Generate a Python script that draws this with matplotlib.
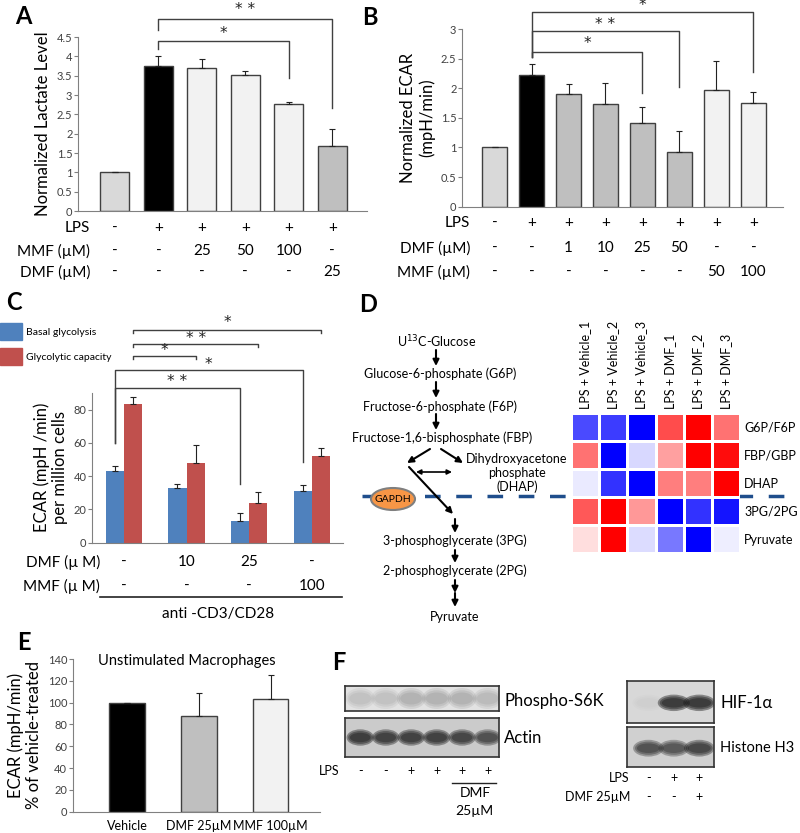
import numpy as np
import matplotlib.pyplot as plt
from matplotlib.patches import Ellipse, Rectangle
from matplotlib.transforms import blended_transform_factory

plt.rcParams['font.family'] = ['Lato', 'DejaVu Sans']

# ---- data ----
a_vals = [1.0, 3.75, 3.69, 3.51, 2.76, 1.69]
a_err = [0, 0.27, 0.24, 0.11, 0.07, 0.43]
a_colors = ['#d9d9d9', '#000000', '#f2f2f2', '#f2f2f2', '#f2f2f2', '#bfbfbf']
a_lps = ['-', '+', '+', '+', '+', '+']
a_mmf = ['-', '-', '25', '50', '100', '-']
a_dmf = ['-', '-', '-', '-', '-', '25']
a_sig = [(1, 5, '* *'), (1, 4, '*')]

b_vals = [1.0, 2.22, 1.90, 1.74, 1.41, 0.93, 1.97, 1.75]
b_err = [0, 0.19, 0.17, 0.35, 0.27, 0.35, 0.49, 0.19]
b_colors = ['#d9d9d9', '#000000', '#bfbfbf', '#bfbfbf', '#bfbfbf', '#bfbfbf', '#f2f2f2', '#f2f2f2']
b_lps = ['-', '+', '+', '+', '+', '+', '+', '+']
b_dmf = ['-', '-', '1', '10', '25', '50', '-', '-']
b_mmf = ['-', '-', '-', '-', '-', '-', '50', '100']
b_sig = [(1, 7, '*'), (1, 5, '* *'), (1, 4, '*')]

c_series = ['Basal glycolysis', 'Glycolytic capacity']
c_colors = ['#4f81bd', '#c0504d']
c_basal = [42.8, 33.1, 13.2, 31.1]
c_basal_err = [3.0, 2.2, 4.4, 3.6]
c_capacity = [83.6, 47.8, 24.0, 52.2]
c_capacity_err = [4.1, 11.1, 6.3, 4.7]
c_dmf = ['-', '10', '25', '-']
c_mmf = ['-', '-', '-', '100']
c_sig_capacity = [(0, 3, '*'), (0, 2, '* *'), (0, 1, '*')]
c_sig_basal = [(0, 3, '*'), (0, 2, '* *')]

d_cols = ['LPS + Vehicle_1', 'LPS + Vehicle_2', 'LPS + Vehicle_3',
          'LPS + DMF_1', 'LPS + DMF_2', 'LPS + DMF_3']
d_rows = ['G6P/F6P', 'FBP/GBP', 'DHAP', '3PG/2PG', 'Pyruvate']
d_z = [[-0.71, -0.76, -1.0, 0.70, 1.0, 0.55],
       [0.55, -1.0, -0.15, 0.37, 1.0, 0.95],
       [-0.08, -0.80, -1.0, 0.50, 0.50, 1.0],
       [0.65, 1.0, 0.40, -1.0, -0.80, -0.92],
       [0.13, 1.0, -0.14, -0.53, -1.0, -0.07]]

e_labels = ['Vehicle', 'DMF 25µM', 'MMF 100µM']
e_vals = [100, 88, 103]
e_err = [0, 21, 22]
e_colors = ['#000000', '#bfbfbf', '#f2f2f2']

f_lps_left = ['-', '-', '+', '+', '+', '+']
f_s6k = [0.12, 0.12, 0.18, 0.18, 0.18, 0.15]
f_actin = [0.9, 0.85, 0.85, 0.85, 0.8, 0.7]
f_lps_right = ['-', '+', '+']
f_dmf_right = ['-', '-', '+']
f_hif = [0.03, 0.95, 0.95]
f_h3 = [0.7, 0.65, 0.8]

# ---- figure ----
W, H = 800, 833
fig = plt.figure(figsize=(8, 8.33), dpi=100)
ov = fig.add_axes([0, 0, 1, 1])
ov.set_xlim(0, W)
ov.set_ylim(H, 0)
ov.axis('off')


def box(x0, y0, x1, y1):
    return [x0 / W, 1 - y1 / H, (x1 - x0) / W, (y1 - y0) / H]


def style(ax, ticks, ylim, xlim):
    ax.set_facecolor('none')
    for s in ['top', 'right']:
        ax.spines[s].set_visible(False)
    for s in ['left', 'bottom']:
        ax.spines[s].set_color('#808080')
    ax.set_ylim(*ylim)
    ax.set_xlim(*xlim)
    ax.set_yticks(ticks)
    ax.set_yticklabels([f'{t:g}' for t in ticks])
    ax.tick_params(axis='y', length=3, color='#808080', labelsize=8, labelcolor='#404040', pad=1)
    ax.set_xticks([])


def bracket(ax, x0, x1, y, y0, y1, label, ly, fs=11):
    ax.plot([x0, x0, x1, x1], [y0, y, y, y1], color='#404040', lw=1, clip_on=False)
    ax.text((x0 + x1) / 2, ly, label, ha='center', va='center', fontsize=fs,
            family='DejaVu Sans', color='#222222')


def xt(ax):
    return blended_transform_factory(ax.transData, ov.transData)


def rowlabels(ax, names, rows, ys, xr, fs=11):
    for name, vals, y in zip(names, rows, ys):
        ov.text(xr, y, name, ha='right', va='center', fontsize=fs)
        for i, v in enumerate(vals):
            ax.text(i, y, v, transform=xt(ax), ha='center', va='center', fontsize=fs)


ekw = dict(ecolor='#222222', elinewidth=0.8, capsize=2, capthick=0.8)

# ---- A ----
axA = fig.add_axes(box(78, 37, 367, 211))
xa = np.arange(len(a_vals))
axA.bar(xa, a_vals, width=0.67, color=a_colors, edgecolor='#404040', lw=1,
        yerr=[np.zeros(len(a_err)), a_err], error_kw=ekw)
style(axA, np.arange(0, 4.51, 0.5), (0, 4.5), (-0.85, 5.8))
axA.set_ylabel('Normalized Lactate Level', fontsize=12, labelpad=4)
for (i, j, lab), (y, y0, y1, ly) in zip(a_sig, [(4.97, 4.68, 2.66, 5.2), (4.40, 4.19, 3.44, 4.6)]):
    bracket(axA, i, j, y, y0, y1, lab, ly)
rowlabels(axA, ['LPS', 'MMF (µM)', 'DMF (µM)'], [a_lps, a_mmf, a_dmf], [228, 251, 272], 90)

# ---- B ----
axB = fig.add_axes(box(462, 29, 783, 206.7))
xb = np.arange(len(b_vals))
axB.bar(xb, b_vals, width=0.68, color=b_colors, edgecolor='#404040', lw=1,
        yerr=[np.zeros(len(b_err)), b_err], error_kw=ekw)
style(axB, np.arange(0, 3.01, 0.5), (0, 3), (-0.88, 7.8))
axB.set_ylabel('Normalized ECAR\n(mpH/min)', fontsize=12, labelpad=4, linespacing=1.2)
for (i, j, lab), (y, y0, y1, ly) in zip(b_sig, [(3.29, 2.53, 2.28, 3.39), (2.96, 2.53, 2.02, 3.07),
                                                 (2.62, 2.53, 1.92, 2.75)]):
    bracket(axB, i, j, y, y0, y1, lab, ly)
rowlabels(axB, ['LPS', 'DMF (µM)', 'MMF (µM)'], [b_lps, b_dmf, b_mmf], [223, 248, 272], 470)

# ---- C ----
axC = fig.add_axes(box(92, 393, 343, 542.5))
xc = np.arange(len(c_basal))
bw = 0.29
axC.bar(xc - bw / 2, c_basal, width=bw, color=c_colors[0],
        yerr=[np.zeros(4), c_basal_err], error_kw=ekw)
axC.bar(xc + bw / 2, c_capacity, width=bw, color=c_colors[1],
        yerr=[np.zeros(4), c_capacity_err], error_kw=ekw)
style(axC, [0, 20, 40, 60, 80], (0, 90), (-0.51, 3.5))
axC.set_ylabel('ECAR (mpH /min)\nper million cells', fontsize=12, labelpad=4, linespacing=1.15)
for (i, j, lab), (y, ly) in zip(c_sig_capacity, [(127.9, 132.2), (119.7, 123.0), (112.2, 115.6)]):
    bracket(axC, i + bw / 2, j + bw / 2, y, y - 2, y - 2, lab, ly)
for (i, j, lab), (y, y0, y1, ly) in zip(c_sig_basal, [(103.7, 60.1, 48.2, 107.4), (93.1, 60.1, 35.3, 96.9)]):
    bracket(axC, i - bw / 2, j - bw / 2, y, y0, y1, lab, ly)
rowlabels(axC, ['DMF (µ M)', 'MMF (µ M)'], [c_dmf, c_mmf], [562, 586], 100, fs=11)
axC.plot([-0.38, 3.49], [597, 597], color='#222222', lw=1.2, transform=xt(axC), clip_on=False)
axC.text(1.5, 614, 'anti -CD3/CD28', transform=xt(axC), ha='center', va='center', fontsize=11)
for k, (name, col) in enumerate(zip(c_series, c_colors)):
    ov.add_patch(Rectangle((0, 323 + 25 * k), 22, 17, color=col))
    ov.text(26, 332 + 25 * k, name, va='center', fontsize=7.5)

# ---- D pathway ----
tk = dict(ha='center', va='center', fontsize=9)
ov.text(437, 342, 'U$^{13}$C-Glucose', **tk)
ov.text(440, 374, 'Glucose-6-phosphate (G6P)', **tk)
ov.text(440, 407, 'Fructose-6-phosphate (F6P)', **tk)
ov.text(442, 438, 'Fructose-1,6-bisphosphate (FBP)', **tk)
ov.text(517, 473, 'Dihydroxyacetone\nphosphate\n(DHAP)', linespacing=1.15, **tk)
ov.text(455, 541, '3-phosphoglycerate (3PG)', **tk)
ov.text(455, 571, '2-phosphoglycerate (2PG)', **tk)
ov.text(455, 617, 'Pyruvate', **tk)
arr = dict(arrowstyle='-|>', color='k', lw=1.5, mutation_scale=9, shrinkA=0, shrinkB=0)
for (x0, y0, x1, y1) in [(436, 350, 436, 366), (436, 382, 436, 398), (436, 414, 436, 430),
                         (430, 449, 407, 463), (441, 449, 463, 463), (409, 467, 453, 514),
                         (455, 519, 455, 533), (455, 550, 455, 563), (455, 580, 455, 593),
                         (455, 593, 455, 607)]:
    ov.annotate('', xy=(x1, y1), xytext=(x0, y0), arrowprops=arr)
ov.annotate('', xy=(452, 472), xytext=(416, 472),
            arrowprops=dict(arrowstyle='<|-|>', color='k', lw=1.2, mutation_scale=7, shrinkA=0, shrinkB=0))
ov.plot([362, 787], [496, 496], color='#1f4e8c', lw=2.5, dashes=(4.5, 4.5), zorder=1)
ov.add_patch(Ellipse((393, 499), 44, 22, facecolor='#f79646', edgecolor='#7f7f7f', lw=1.5, zorder=3))
ov.text(393, 499, 'GAPDH', ha='center', va='center', fontsize=7.5, zorder=4)

# ---- D heatmap ----
axD = fig.add_axes(box(571, 413, 740, 553))
axD.pcolormesh(np.array(d_z), cmap='bwr', vmin=-1, vmax=1, edgecolors='white', linewidth=0.8)
axD.set_xlim(0, len(d_cols))
axD.set_ylim(len(d_rows), 0)
axD.xaxis.tick_top()
axD.yaxis.tick_right()
axD.set_xticks(np.arange(len(d_cols)) + 0.5)
axD.set_xticklabels(d_cols, rotation=90, fontsize=9)
axD.set_yticks(np.arange(len(d_rows)) + 0.5)
axD.set_yticklabels(d_rows, fontsize=9)
axD.tick_params(length=0, pad=3)
for s in axD.spines.values():
    s.set_visible(False)

# ---- E ----
axE = fig.add_axes(box(72.7, 659, 320, 811.7))
xe = np.arange(len(e_vals))
axE.bar(xe, e_vals, width=0.5, color=e_colors, edgecolor='#404040', lw=1,
        yerr=[np.zeros(3), e_err], error_kw=ekw)
style(axE, np.arange(0, 141, 20), (0, 140), (-0.76, 2.69))
axE.set_xticks(xe)
axE.set_xticklabels(e_labels, fontsize=9)
axE.tick_params(axis='x', length=0, pad=6)
axE.set_ylabel('ECAR (mpH/min)\n% of vehicle-treated', fontsize=12, labelpad=4, linespacing=1.15)
ov.text(187, 661, 'Unstimulated Macrophages', ha='center', va='center', fontsize=10.5)


# ---- F blots ----
def blot(rect, xlim, bg, bands, yc, bw_, bh):
    ax = fig.add_axes(box(*rect))
    ax.set_facecolor(bg)
    ax.set_xlim(*xlim)
    ax.set_ylim(0, 1)
    ax.set_xticks([])
    ax.set_yticks([])
    for s in ax.spines.values():
        s.set_color('#333333')
        s.set_linewidth(1.2)
    for i, v in enumerate(bands):
        for k in range(3):
            ax.add_patch(Ellipse((i, yc), bw_ * (1.2 - 0.15 * k), bh * (1.4 - 0.3 * k),
                                 color='#1a1a1a', alpha=v / 2.2, lw=0))
    return ax


blot((345, 686, 499, 711), (-0.6, 5.45), '#e2e2e2', f_s6k, 0.5, 0.95, 0.6)
axAct = blot((345, 718, 499, 757), (-0.6, 5.45), '#cbcbcb', f_actin, 0.5, 0.9, 0.3)
blot((627, 681, 714, 723), (-0.84, 2.58), '#d8d8d8', f_hif, 0.48, 1.05, 0.28)
axH3 = blot((627, 727, 714, 767), (-0.84, 2.58), '#d0d0d0', f_h3, 0.47, 1.0, 0.3)
ov.text(504, 701, 'Phospho-S6K', va='center', fontsize=12)
ov.text(504, 738, 'Actin', va='center', fontsize=12)
ov.text(720, 703, 'HIF-1α', va='center', fontsize=12)
ov.text(720, 748, 'Histone H3', va='center', fontsize=10.5)
rowlabels(axAct, ['LPS'], [f_lps_left], [771], 340, fs=9)
axAct.plot([3.6, 5.35], [783, 783], color='#222222', lw=1, transform=xt(axAct), clip_on=False)
axAct.text(4.5, 793, 'DMF', transform=xt(axAct), ha='center', va='center', fontsize=10)
axAct.text(4.5, 811, '25µM', transform=xt(axAct), ha='center', va='center', fontsize=10)
rowlabels(axH3, ['LPS', 'DMF 25µM'], [f_lps_right, f_dmf_right], [778, 797], 630, fs=9)

# ---- panel letters ----
for lab, x, y in [('A', 23, 16), ('B', 370, 17), ('C', 14, 303), ('D', 368, 305),
                  ('E', 24, 643), ('F', 339, 663)]:
    ov.text(x, y, lab, ha='center', va='center', fontsize=17, fontweight='bold')

fig.savefig('out.png', dpi=100)
